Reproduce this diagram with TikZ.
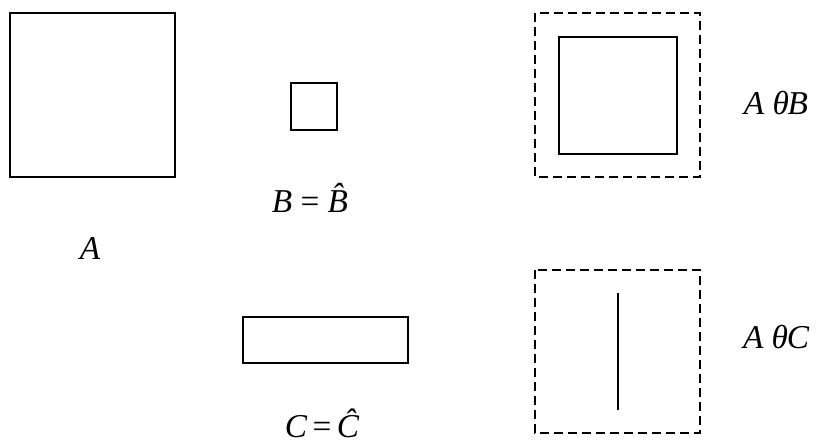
\documentclass[tikz,border=0pt]{standalone}
\usepackage{fontspec}
\setmainfont{Liberation Serif}
\usetikzlibrary{positioning}

\begin{document}
\begin{tikzpicture}[x=0.75pt, y=-0.75pt]
    \tikzstyle{outline} = [draw, line width=1.5pt]
    \tikzstyle{hull} = [draw, line width=1.4pt, dash pattern=on 6.75pt off 3.75pt]
    \tikzstyle{lbl} = [inner sep=0pt, anchor=base, text depth=0pt, font=\fontsize{25}{30}\selectfont\itshape]

    \useasboundingbox (0,0) rectangle (817,446);

    % the sets
    \draw [outline] (10,13) rectangle (175,177);
    \draw [outline] (291,83) rectangle (337,130);
    \draw [outline] (243,317) rectangle (408,363);

    % results
    \draw [hull] (535,13) rectangle (700,177);
    \draw [outline] (559,37) rectangle (677,154);
    \draw [hull] (535,270) rectangle (700,433);
    \coordinate (ctop) at (618,293);
    \coordinate (cbot) at (618,410);
    \draw [outline] (ctop) -- (cbot);

    % labels
    \node [lbl] (labA) at (90,259) {A};
    \node [lbl] (labB) at (310,212) {B \upshape= \itshape\^{B}};
    \node [lbl] (labC) at (322,437) {C\,\upshape=\,\itshape\^{C}};
    \node [lbl] (labAB) at (776,114) {A θ\kern-1pt B};
    \node [lbl] (labAC) at (776,348) {A θ\kern-1pt C};
\end{tikzpicture}
\end{document}
